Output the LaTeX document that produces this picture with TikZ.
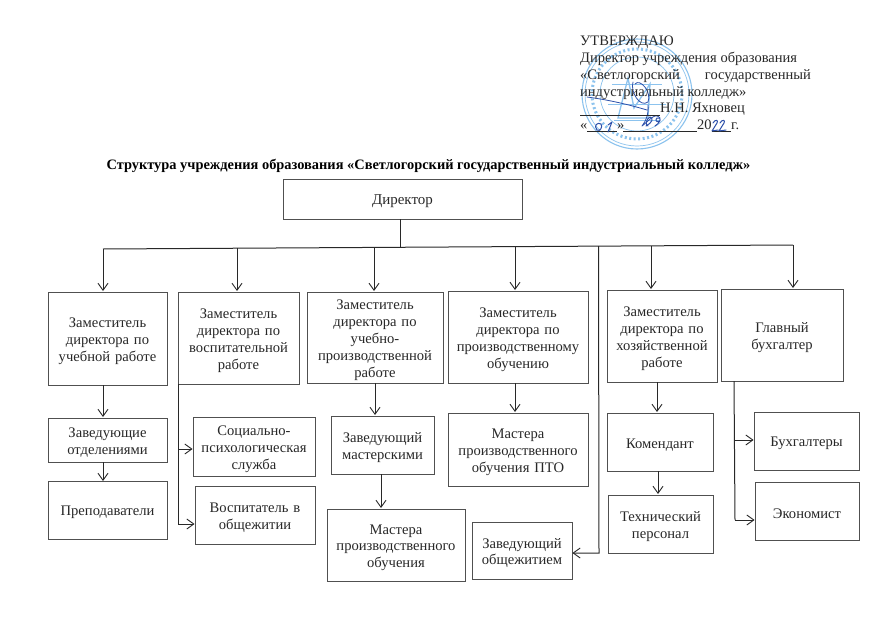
\documentclass[tikz,border=0pt]{standalone}
\usepackage{fontspec}
\setmainfont{Liberation Serif}
\usetikzlibrary{arrows.meta}
\definecolor{ink}{RGB}{40,40,40}
\definecolor{edge}{RGB}{80,80,80}
\definecolor{stampblue}{RGB}{140,195,238}
\definecolor{penblue}{RGB}{45,80,170}
\tikzset{
  x=1pt,y=-1pt,
  orgbox/.style={draw=edge,line width=0.9pt,inner sep=0pt,text=ink,align=center,font=\fontsize{14.6}{16.8}\selectfont},
  link/.style={draw=ink,line width=1pt,-{Straight Barb[length=7pt,width=10pt,line width=0.9pt]}},
  bus/.style={draw=ink,line width=1pt},
  head/.style={anchor=base west,inner sep=0pt,text=ink,font=\fontsize{14.5}{16}\selectfont},
  stampline/.style={draw=stampblue,line width=0.7pt},
  pen/.style={draw=penblue,line width=1pt,line cap=round,line join=round},
}
\newcommand{\obox}[6]{% name, x1,y1,x2,y2, text
  \node[orgbox,minimum width=#4pt-#2pt,minimum height=#5pt-#3pt,text width=#4pt-#2pt-2pt] (#1) at ({(#2+#4)/2},{(#3+#5)/2}) {\rule{0pt}{15pt}#6};
}
\begin{document}
\begin{tikzpicture}
\useasboundingbox (0,0) rectangle (878,621);
\fill[white] (0,0) rectangle (878,621);
% stamp
\draw[stampline,line width=1.1pt] (637,94) circle (55);
\draw[stampline] (637,94) circle (52);
\draw[stampline] (637,94) circle (37);
\draw[stampline,line width=3pt,dash pattern=on 2pt off 2.5pt] (637,94) circle (45);
\draw[stampline,line width=1.3pt] (618,118) -- (628,78) -- (634,108) -- (650,84) -- (648,118) -- cycle;
\draw[stampline] (608,104) -- (666,104) (612,84) -- (662,84) (614,120) -- (660,120);
% signature
\draw[pen,line width=0.8pt] (587,97) .. controls (610,100) and (630,105) .. (647,110) (633,82) .. controls (630,92) and (640,108) .. (648,102) .. controls (652,92) and (640,78) .. (635,84) (648,105) .. controls (649,115) and (645,122) .. (642,126) .. controls (650,120) and (655,112) .. (660,118);
% header
\node[head] (h1) at (580,45) {УТВЕРЖДАЮ};
\node[head] (h2) at (580,62) {Директор учреждения образования};
\node[head] (h3a) at (580,79) {«Светлогорский};
\node[head,anchor=base east] (h3b) at (811,79) {государственный};
\node[head] (h4) at (580,96) {индустриальный колледж»};
\node[head] (h5) at (660,112) {Н.Н. Яхновец};
\node[head] (h6a) at (580,129) {«};
\node[head] (h6b) at (617,129) {»};
\node[head] (h6c) at (697,129) {20};
\node[head] (h6d) at (731,129) {г.};
\draw[ink,line width=0.6pt] (580,115) -- (660,115) (587,131) -- (617,131) (623,131) -- (697,131) (712,131) -- (731,131);
% handwritten
\draw[pen] (597,130) .. controls (593,125) and (598,122) .. (601,124) .. controls (603,127) and (600,132) .. (597,130);
\draw[pen] (608,125) -- (612,122) -- (608,132);
\draw[pen] (646,126) .. controls (652,123) and (654,118) .. (650,117) .. controls (646,119) and (645,125) .. (648,126);
\draw[pen] (655,126) .. controls (661,122) and (662,117) .. (657,118) .. controls (655,120) and (656,123) .. (660,121);
\draw[pen] (713,123) .. controls (715,119) and (719,120) .. (717,123) -- (712,131) -- (718,130) (720,123) .. controls (722,119) and (726,120) .. (724,123) -- (719,131) -- (726,130);
% title
\node[inner sep=0pt,anchor=base,text=black,font=\fontsize{14.4}{16}\bfseries\selectfont] (title) at (428.5,169) {Структура учреждения образования «Светлогорский государственный индустриальный колледж»};
% boxes
\obox{dir}{283}{179}{522}{219}{\fontsize{15}{18}\selectfont Директор}
\obox{d1}{48}{292}{167}{385}{Заместитель\\директора по\\учебной работе}
\obox{d2}{178}{292}{299}{384}{Заместитель\\директора по\\воспитательной\\работе}
\obox{d3}{307}{292}{443}{383}{Заместитель\\директора по\\учебно-\\производственной\\работе}
\obox{d4}{448}{291}{588}{383}{Заместитель\\директора по\\производственному\\обучению}
\obox{d5}{607}{290}{717}{382}{Заместитель\\директора по\\хозяйственной\\работе}
\obox{d6}{721}{289}{843}{381}{Главный\\бухгалтер}
\obox{zo}{48}{418}{167}{462}{Заведующие\\отделениями}
\obox{pr}{48}{481}{167}{539}{Преподаватели}
\obox{sp}{193}{417}{315}{476}{Социально-\\психологическая\\служба}
\obox{vo}{195}{486}{315}{544}{Воспитатель в\\общежитии}
\obox{zm}{331}{416}{434}{474}{Заведующий\\мастерскими}
\obox{mp}{327}{509}{465}{581}{Мастера\\производственного\\обучения}
\obox{mo}{448}{413}{588}{486}{Мастера\\производственного\\обучения ПТО}
\obox{zz}{472}{522}{572}{579}{Заведующий\\общежитием}
\obox{ko}{607}{413}{713}{471}{Комендант}
\obox{te}{608}{495}{713}{553}{Технический\\персонал}
\obox{bu}{754}{412}{859}{470}{Бухгалтеры}
\obox{ec}{755}{482}{859}{540}{Экономист}
% bus
\coordinate (busL) at (103,249);
\coordinate (busR) at (793,245);
\coordinate (tr) at (400,247);
\draw[bus] (dir.south -| tr) -- (tr);
\draw[bus] (busL) -- (busR);
\coordinate (b1) at (103,249);
\coordinate (b2) at (237,248.2);
\coordinate (b3) at (374,247.5);
\coordinate (b4) at (515,246.6);
\coordinate (b6) at (651,245.8);
\coordinate (b7) at (793,245);
\coordinate (b5) at (598.5,246);
\draw[link] (b1) -- (103,291);
\draw[link] (b2) -- (237,291);
\draw[link] (b3) -- (374,291);
\draw[link] (b4) -- (515,290);
\draw[link] (b6) -- (651,289);
\draw[link] (b7) -- (793,288);
\draw[link] (b5) -- (599,553) -- (zz.east |- 0,553);
\draw[link] (103,385) -- (103,417);
\draw[link] (103,462) -- (103,481);
\draw[link] (375,383) -- (375,415);
\draw[link] (381,474) -- (381,508);
\draw[link] (515,383) -- (515,412);
\draw[link] (657,382) -- (657,412);
\draw[link] (658,471) -- (658,494);
% branch lines
\coordinate (v2) at (178,384);
\draw[bus] (v2) -- (178,524);
\draw[link] (178,449) -- (sp.west |- 0,449);
\draw[link] (178,524) -- (vo.west |- 0,524);
\coordinate (v6) at (734,381);
\draw[bus] (v6) -- (735,520);
\draw[link] (734.5,440) -- (bu.west |- 0,440);
\draw[link] (735,520) -- (ec.west |- 0,520);
\end{tikzpicture}
\end{document}
